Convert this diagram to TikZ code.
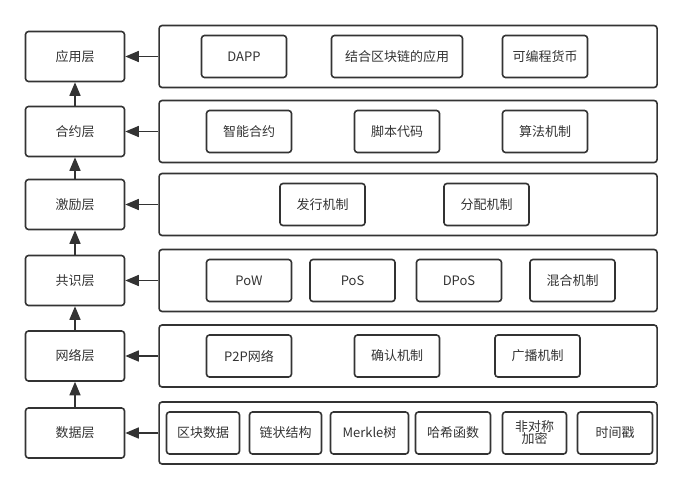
\documentclass[tikz,border=0pt]{standalone}
\usepackage{fontspec}
\setmainfont{Noto Sans CJK SC}
\usepackage{tikz}
\usetikzlibrary{arrows.meta,positioning}
\definecolor{linegray}{HTML}{333333}
\tikzset{
  layer/.style={draw=linegray, line width=1.6pt, rounded corners=3pt, minimum width=99pt, minimum height=50pt, inner sep=0pt},
  group/.style={draw=linegray, line width=1.6pt, rounded corners=3pt, minimum width=498pt, minimum height=62pt, inner sep=0pt},
  item/.style={draw=linegray, line width=1.6pt, rounded corners=3pt, minimum width=85pt, minimum height=42pt, inner sep=0pt, align=center}
}

\begin{document}
\begin{tikzpicture}[
    x=1pt, y=-1pt,
    every node/.style={text=linegray, font=\fontsize{13}{15}\selectfont},
    link/.style={draw=linegray, line width=1.6pt, -{Triangle[length=13.5pt,width=11pt]}}
]
    \useasboundingbox (0,0) rectangle (683,490);

    % Define layers
    \node (app) [layer] at (75,56.5) {应用层};
    \node (contract) [layer] at (75,131.5) {合约层};
    \node (incentive) [layer] at (75,204.5) {激励层};
    \node (consensus) [layer] at (75,280.5) {共识层};
    \node (network) [layer] at (75,356) {网络层};
    \node (data) [layer] at (75,433) {数据层};

    % Define groups
    \node (appG) [group, right=33pt of app] {};
    \node (contractG) [group, right=33pt of contract] {};
    \node (incentiveG) [group, right=33pt of incentive] {};
    \node (consensusG) [group, right=33pt of consensus] {};
    \node (networkG) [group, right=33pt of network] {};
    \node (dataG) [group, right=33pt of data] {};

    % Application items
    \node (dapp) [item] at (244,56.5) {DAPP};
    \node (combo) [item, minimum width=131pt] at (397,56.5) {结合区块链的应用};
    \node (coin) [item] at (545,56.5) {可编程货币};

    % Contract items
    \node (smart) [item] at (249,131.5) {智能合约};
    \node (script) [item] at (397,131.5) {脚本代码};
    \node (algo) [item] at (545,131.5) {算法机制};

    % Incentive items
    \node (issue) [item] at (322.5,204.5) {发行机制};
    \node (alloc) [item] at (486.5,204.5) {分配机制};

    % Consensus items
    \node (pow) [item] at (249,280.5) {PoW};
    \node (pos) [item] at (352.5,280.5) {PoS};
    \node (dpos) [item] at (459,280.5) {DPoS};
    \node (mixed) [item] at (572.5,280.5) {混合机制};

    % Network items
    \node (ptp) [item] at (249,356) {P2P网络};
    \node (confirm) [item] at (397,356) {确认机制};
    \node (bcast) [item] at (537.5,356) {广播机制};

    % Data items
    \node (block) [item, minimum width=73pt] at (203,433) {区块数据};
    \node (chain) [item, minimum width=72pt] at (285.5,433) {链状结构};
    \node (merkle) [item, minimum width=78pt] at (369.5,433) {Merkle树};
    \node (hash) [item, minimum width=75pt] at (453,433) {哈希函数};
    \node (crypto) [item, minimum width=64pt] at (534.5,433) {非对称\\[-3pt]加密};
    \node (stamp) [item, minimum width=75pt] at (615,433) {时间戳};

    % Draw edges
    \draw[link] (appG) -- (app);
    \draw[link] (contractG) -- (contract);
    \draw[link] (incentiveG) -- (incentive);
    \draw[link] (consensusG) -- (consensus);
    \draw[link] (networkG) -- (network);
    \draw[link] (dataG) -- (data);

    \draw[link] (contract) -- (app);
    \draw[link] (incentive) -- (contract);
    \draw[link] (consensus) -- (incentive);
    \draw[link] (network) -- (consensus);
    \draw[link] (data) -- (network);

\end{tikzpicture}
\end{document}
